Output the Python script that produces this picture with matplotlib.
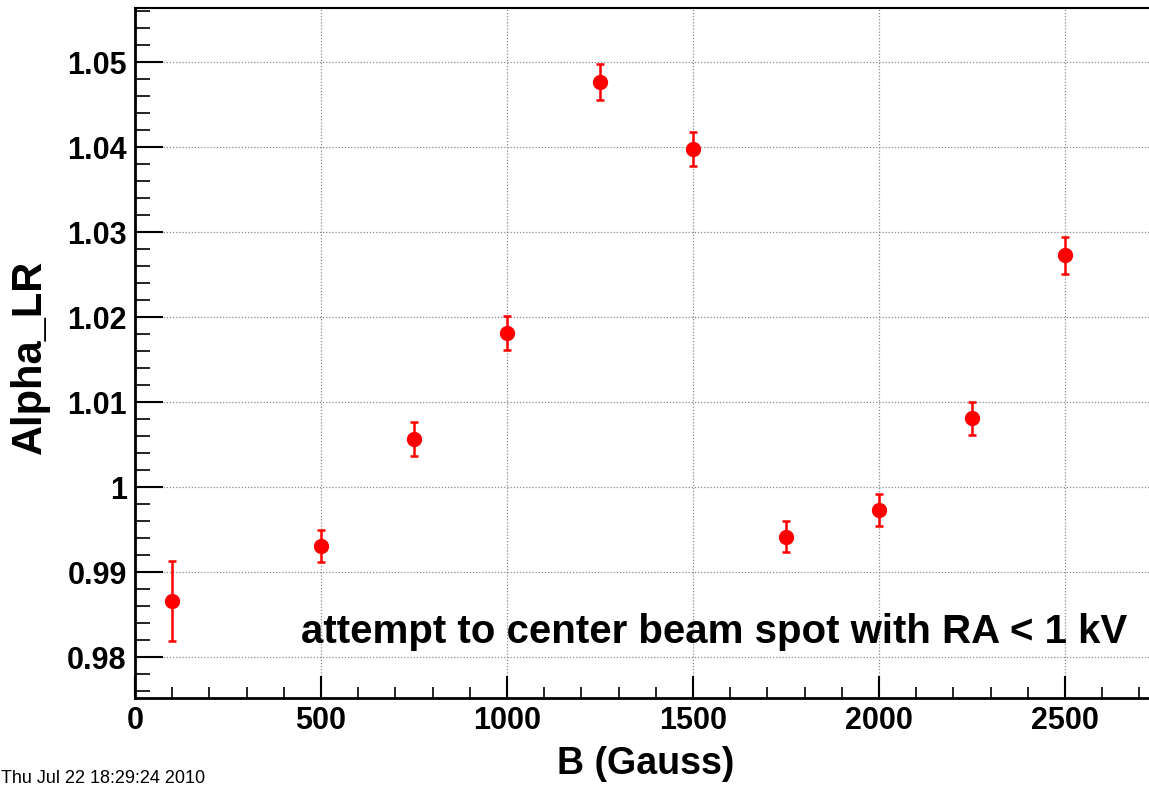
import matplotlib
matplotlib.use('Agg')
import matplotlib.pyplot as plt
from matplotlib.ticker import MultipleLocator

# measured points, B field in Gauss
B = [100, 500, 750, 1000, 1250, 1500, 1750, 2000, 2250, 2500]
alpha_lr = [0.9866, 0.9931, 1.0057, 1.0182, 1.0477, 1.0398, 0.9942, 0.9973, 1.0081, 1.0273]
alpha_err = [0.0047, 0.0019, 0.0020, 0.0020, 0.0021, 0.0020, 0.0018, 0.0019, 0.0019, 0.0022]

plt.rcParams['font.family'] = ['Liberation Sans', 'DejaVu Sans']
plt.rcParams['font.weight'] = 'bold'

fig = plt.figure(figsize=(11.49, 7.89), dpi=100)
ax = fig.add_axes([0.1175, 0.1153, 0.8903, 0.8746])

ax.errorbar(B, alpha_lr, yerr=alpha_err, fmt='o', color='red', ms=10,
            elinewidth=1.8, capsize=3, capthick=1.8, zorder=3)

ax.set_xlim(0, 2750)
ax.set_ylim(0.97521, 1.0564)

ax.xaxis.set_major_locator(MultipleLocator(500))
ax.xaxis.set_minor_locator(MultipleLocator(100))
ax.yaxis.set_major_locator(MultipleLocator(0.01))
ax.yaxis.set_minor_locator(MultipleLocator(0.002))
ax.set_yticks([0.98, 0.99, 1.0, 1.01, 1.02, 1.03, 1.04, 1.05])
ax.set_yticklabels(['0.98', '0.99', '1', '1.01', '1.02', '1.03', '1.04', '1.05'])

ax.grid(True, which='major', color='#8a8a8a', linestyle=(0, (1, 1.5)), linewidth=0.9)

ax.tick_params(axis='y', which='major', direction='in', length=20, width=1.5,
               labelsize=22, pad=6)
ax.tick_params(axis='y', which='minor', direction='in', length=11, width=1.2)
ax.tick_params(axis='x', which='major', direction='in', length=16, width=1.5,
               labelsize=22, pad=6)
ax.tick_params(axis='x', which='minor', direction='in', length=8, width=1.2)

ax.spines['left'].set_linewidth(2)
ax.spines['bottom'].set_linewidth(2)
ax.spines['top'].set_linewidth(1.5)
ax.spines['right'].set_linewidth(1.5)

ax.set_xlabel('B (Gauss)', fontsize=27, fontweight='bold')
ax.set_ylabel('Alpha_LR', fontsize=30, fontweight='bold')
ax.xaxis.set_label_coords(0.4995, -0.069)
ax.yaxis.set_label_coords(-0.083, 0.494)

ax.text(2667, 0.98168, 'attempt to center beam spot with RA < 1 kV',
        ha='right', va='baseline', fontsize=29, fontweight='bold')

fig.text(0.001, 0.002, 'Thu Jul 22 18:29:24 2010', fontsize=13,
         fontweight='normal', ha='left', va='bottom')

fig.savefig('out.png', dpi=100)
